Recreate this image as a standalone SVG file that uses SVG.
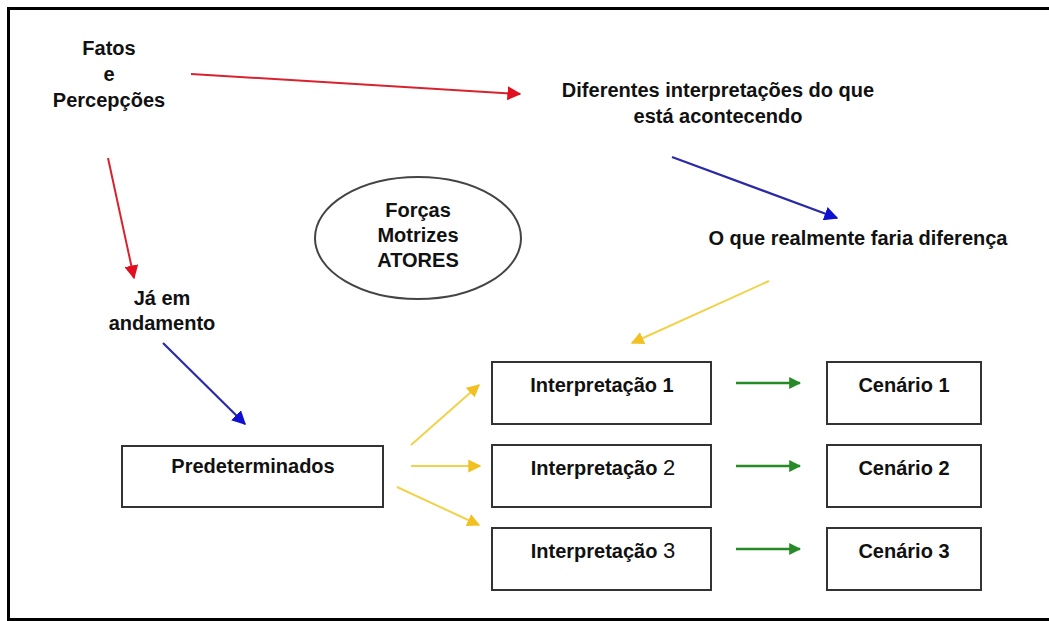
<svg xmlns="http://www.w3.org/2000/svg" width="1049" height="621" viewBox="0 0 1049 621">
  <defs>
    <style>
      .lbl { font-family: "Liberation Sans", Arial, sans-serif; font-weight: bold; font-size: 20px; fill: #111; text-anchor: middle; }
      .num { font-weight: normal; font-size: 22px; }
      .box { fill: #fff; stroke: #333; stroke-width: 2; }
      .frame { stroke: #000; stroke-width: 3; fill: none; }
      .red { stroke: #d8232e; stroke-width: 2; fill: none; }
      .blue { stroke: #2a2aa8; stroke-width: 2.2; fill: none; }
      .yellow { stroke: #f2d24a; stroke-width: 2; fill: none; }
      .green { stroke: #268a26; stroke-width: 2.5; fill: none; }
    </style>
    <marker id="ah-red" viewBox="0 0 10 10" refX="9" refY="5" markerWidth="14" markerHeight="14" markerUnits="userSpaceOnUse" orient="auto">
      <path d="M0,0 L10,5 L0,10 Z" fill="#e01020"/>
    </marker>
    <marker id="ah-blue" viewBox="0 0 10 10" refX="9" refY="5" markerWidth="14" markerHeight="14" markerUnits="userSpaceOnUse" orient="auto">
      <path d="M0,0 L10,5 L0,10 Z" fill="#1010d0"/>
    </marker>
    <marker id="ah-yellow" viewBox="0 0 10 10" refX="9" refY="5" markerWidth="13" markerHeight="13" markerUnits="userSpaceOnUse" orient="auto">
      <path d="M0,0 L10,5 L0,10 Z" fill="#f2c020"/>
    </marker>
    <marker id="ah-green" viewBox="0 0 10 10" refX="9" refY="5" markerWidth="12" markerHeight="12" markerUnits="userSpaceOnUse" orient="auto">
      <path d="M0,0 L10,5 L0,10 Z" fill="#268a26"/>
    </marker>
  </defs>

  <rect width="1049" height="621" fill="#fff"/>

  <!-- page frame: top, left and bottom rules -->
  <path class="frame" d="M1049,8.5 H8.5 V619.5 H1049"/>

  <!-- connectors -->
  <g id="connectors">
    <line class="red" x1="191" y1="74" x2="520" y2="94" marker-end="url(#ah-red)"/>
    <line class="red" x1="108" y1="158" x2="134" y2="278" marker-end="url(#ah-red)"/>
    <line class="blue" x1="672" y1="157" x2="837" y2="218" marker-end="url(#ah-blue)"/>
    <line class="blue" x1="163" y1="343" x2="245" y2="424" marker-end="url(#ah-blue)"/>
    <line class="yellow" x1="769" y1="281" x2="632" y2="343" marker-end="url(#ah-yellow)"/>
    <line class="yellow" x1="411" y1="445" x2="479" y2="385" marker-end="url(#ah-yellow)"/>
    <line class="yellow" x1="411" y1="466" x2="480" y2="466" marker-end="url(#ah-yellow)"/>
    <line class="yellow" x1="397" y1="487" x2="479" y2="525" marker-end="url(#ah-yellow)"/>
    <line class="green" x1="736" y1="383" x2="800" y2="383" marker-end="url(#ah-green)"/>
    <line class="green" x1="736" y1="466" x2="800" y2="466" marker-end="url(#ah-green)"/>
    <line class="green" x1="736" y1="549" x2="800" y2="549" marker-end="url(#ah-green)"/>
  </g>

  <g id="fatos">
    <text class="lbl" x="109" y="55">Fatos</text>
    <text class="lbl" x="109" y="81">e</text>
    <text class="lbl" x="109" y="107">Percepções</text>
  </g>

  <g id="diferentes">
    <text class="lbl" x="718" y="97">Diferentes interpretações do que</text>
    <text class="lbl" x="718" y="123">está acontecendo</text>
  </g>

  <g id="forcas">
    <ellipse cx="418" cy="238" rx="103" ry="61" fill="#fff" stroke="#444" stroke-width="2"/>
    <text class="lbl" x="418" y="217">Forças</text>
    <text class="lbl" x="418" y="242">Motrizes</text>
    <text class="lbl" x="418" y="267">ATORES</text>
  </g>

  <g id="diferenca">
    <text class="lbl" x="858" y="245">O que realmente faria diferença</text>
  </g>

  <g id="andamento">
    <text class="lbl" x="162" y="305">Já em</text>
    <text class="lbl" x="162" y="330">andamento</text>
  </g>

  <g id="predeterminados">
    <rect class="box" x="122" y="446" width="261" height="61"/>
    <text class="lbl" x="253" y="473">Predeterminados</text>
  </g>

  <g id="interp1">
    <rect class="box" x="492" y="362" width="219" height="62"/>
    <text class="lbl" x="602" y="392">Interpretação 1</text>
  </g>
  <g id="interp2">
    <rect class="box" x="492" y="445" width="219" height="62"/>
    <text class="lbl" x="603" y="475">Interpretação <tspan class="num">2</tspan></text>
  </g>
  <g id="interp3">
    <rect class="box" x="492" y="528" width="219" height="62"/>
    <text class="lbl" x="603" y="558">Interpretação <tspan class="num">3</tspan></text>
  </g>

  <g id="cenario1">
    <rect class="box" x="827" y="362" width="154" height="62"/>
    <text class="lbl" x="904" y="392">Cenário 1</text>
  </g>
  <g id="cenario2">
    <rect class="box" x="827" y="445" width="154" height="62"/>
    <text class="lbl" x="904" y="475">Cenário 2</text>
  </g>
  <g id="cenario3">
    <rect class="box" x="827" y="528" width="154" height="62"/>
    <text class="lbl" x="904" y="558">Cenário 3</text>
  </g>
</svg>
